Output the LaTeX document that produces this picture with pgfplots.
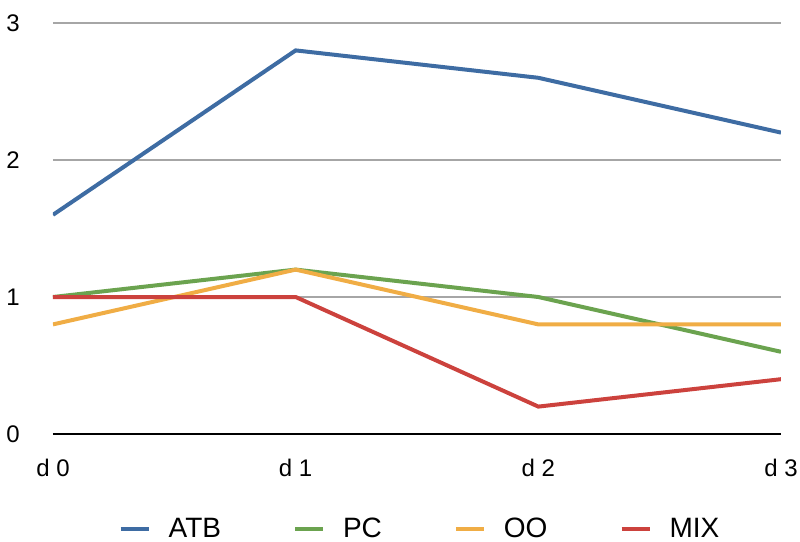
\documentclass[border=0pt]{standalone}
\usepackage{fontspec}
\setmainfont{Liberation Sans}
\usepackage{pgfplots}
\pgfplotsset{compat=1.18}
\definecolor{cATB}{HTML}{3E6CA3}
\definecolor{cPC}{HTML}{6BA34F}
\definecolor{cOO}{HTML}{F0AD45}
\definecolor{cMIX}{HTML}{CC423D}
\begin{document}
\begin{tikzpicture}
\path[use as bounding box] (-26.5pt,-54pt) rectangle (373.5pt,217pt);
\begin{axis}[
  scale only axis,
  width=364pt, height=205.5pt,
  xmin=0, xmax=3, ymin=0, ymax=3,
  axis x line=bottom, axis y line=left,
  axis line style={-},
  x axis line style={black, line width=0.75pt},
  y axis line style={draw=none},
  tick style={draw=none},
  xtick={0,1,2,3}, xticklabels={d 0,d 1,d 2,d 3},
  ytick={0,1,2,3},
  ymajorgrids, grid style={color=black!35, line width=0.75pt},
  /pgf/number format/assume math mode=true,
  ticklabel style={font=\fontsize{12}{14}\selectfont},
  yticklabel style={xshift=-11pt},
  xticklabel style={yshift=-7pt},
  legend style={draw=none, fill=none, at={(0.5055,-0.232)}, anchor=center,
    inner sep=0pt, nodes={inner ysep=0.5pt},
    font=\fontsize{14}{16}\selectfont, legend columns=4,
    /tikz/every odd column/.append style={column sep=7pt},
    /tikz/every even column/.append style={column sep=34pt}},
  legend image code/.code={\draw[#1] (0pt,0pt) -- (14pt,0pt);},
  every axis plot/.append style={line width=2pt, mark=none},
]
\addplot[cATB] coordinates {(0,1.6) (1,2.8) (2,2.6) (3,2.2)};
\addlegendentry{ATB}
\addplot[cPC] coordinates {(0,1.0) (1,1.2) (2,1.0) (3,0.6)};
\addlegendentry{PC}
\addplot[cOO] coordinates {(0,0.8) (1,1.2) (2,0.8) (3,0.8)};
\addlegendentry{OO}
\addplot[cMIX] coordinates {(0,1.0) (1,1.0) (2,0.2) (3,0.4)};
\addlegendentry{MIX}
\end{axis}
\end{tikzpicture}
\end{document}
